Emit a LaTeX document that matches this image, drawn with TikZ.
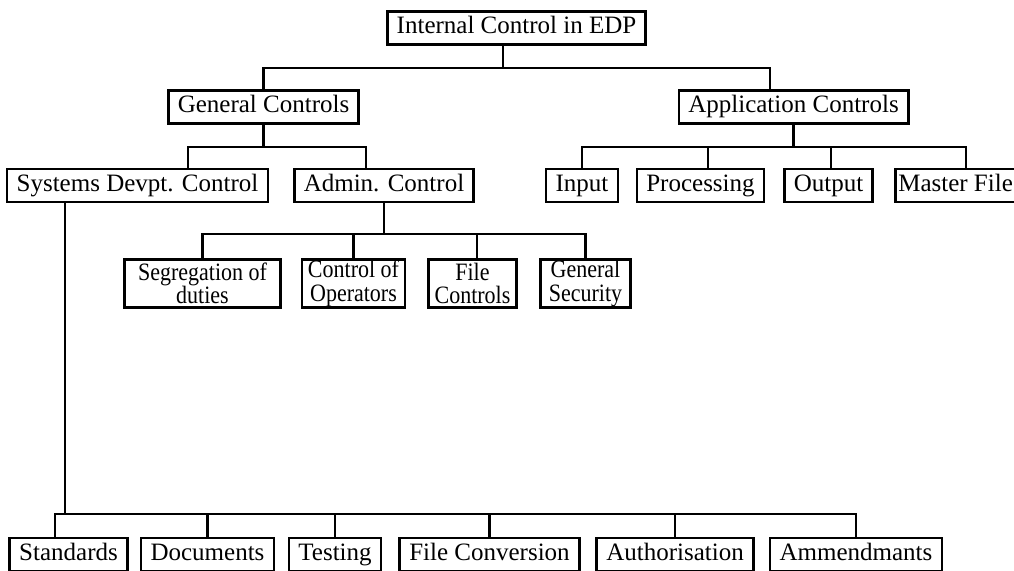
\documentclass[tikz,border=0pt]{standalone}
\usepackage{fontspec}
\setmainfont{Liberation Serif}
\newfontfamily\narrowserif[FakeStretch=0.88]{Liberation Serif}

\begin{document}
\begin{tikzpicture}[
  x=1pt, y=-1pt,
  ctrl/.style={draw, line width=2.6pt, inner ysep=0pt},
  box/.style={ctrl, inner xsep=9.5pt, minimum height=33pt, text height=17pt, text depth=6pt,
    font=\fontsize{25}{23}\selectfont},
  tallbox/.style={ctrl, align=center, inner xsep=6pt, minimum height=48.5pt,
    font=\narrowserif\fontsize{25}{23.5}\selectfont},
  link/.style={line width=2.2pt}
]
\useasboundingbox (0,0) rectangle (1014,570);

% levels 1 and 2
\node[box] (top) at (516.5,28) {Internal Control in EDP};
\node[box] (gen) at (263.5,107) {General Controls};
\node[box] (app) at (793.5,107) {Application Controls};

% level 3
\node[box] (sdc)  at (137.5,185.5) {Systems Devpt. Control};
\node[box] (adm)  at (384,185.5)   {Admin. Control};
\node[box] (inp)  at (582,185.5)   {Input};
\node[box] (proc) at (700.5,185.5) {Processing};
\node[box] (outp) at (828.5,185.5) {Output};
\node[box, anchor=west, inner xsep=3pt] (mast) at (894,185.5) {Master File};

% admin branch
\node[tallbox, minimum width=156pt] (seg) at (202.5,283.5) {Segregation of\\duties};
\node[tallbox] (coo) at (353.5,283.5) {Control of\\Operators};
\node[tallbox] (fc)  at (472.5,283.5) {File\\Controls};
\node[tallbox, minimum width=90pt] (gs) at (585.5,283.5) {General\\Security};

% systems development branch
\node[box] (std) at (68.5,554.5)  {Standards};
\node[box] (doc) at (207.5,554.5) {Documents};
\node[box] (tst) at (335,554.5)   {Testing};
\node[box] (fcv) at (489.5,554.5) {File Conversion};
\node[box] (aut) at (675,554.5)   {Authorisation};
\node[box] (amm) at (856,554.5)   {Ammendmants};

% connectors
\draw[link] ([xshift=-13.5pt]top.south) -- ++(0,22) coordinate (tbar);
\draw[link] (gen.north) |- (tbar) -| ([xshift=-23.5pt]app.north);

\draw[link] (gen.south) -- ++(0,22) coordinate (gbar);
\draw[link] ([xshift=50.5pt]sdc.north) |- (gbar) -| ([xshift=-18pt]adm.north);

\draw[link] (app.south) -- ++(0,22) coordinate (abar);
\draw[link] (inp.north) |- (abar) -| ([xshift=72pt]mast.north west);
\draw[link] ([xshift=7.5pt]proc.north) -- ([xshift=7.5pt]proc.north |- abar);
\draw[link] ([xshift=2.5pt]outp.north) -- ([xshift=2.5pt]outp.north |- abar);

\draw[link] (adm.south) -- ++(0,31) coordinate (dbar);
\draw[link] (seg.north) |- (dbar) -| (gs.north);
\draw[link] (coo.north) -- (coo.north |- dbar);
\draw[link] ([xshift=4.5pt]fc.north) -- ([xshift=4.5pt]fc.north |- dbar);

\draw[link] ([xshift=-72.5pt]sdc.south) -- ++(0,311) coordinate (sbar);
\draw[link] ([xshift=-13.5pt]std.north) |- (sbar) -| (amm.north);
\draw[link] (doc.north) -- (doc.north |- sbar);
\draw[link] (tst.north) -- (tst.north |- sbar);
\draw[link] (fcv.north) -- (fcv.north |- sbar);
\draw[link] (aut.north) -- (aut.north |- sbar);
\end{tikzpicture}
\end{document}
